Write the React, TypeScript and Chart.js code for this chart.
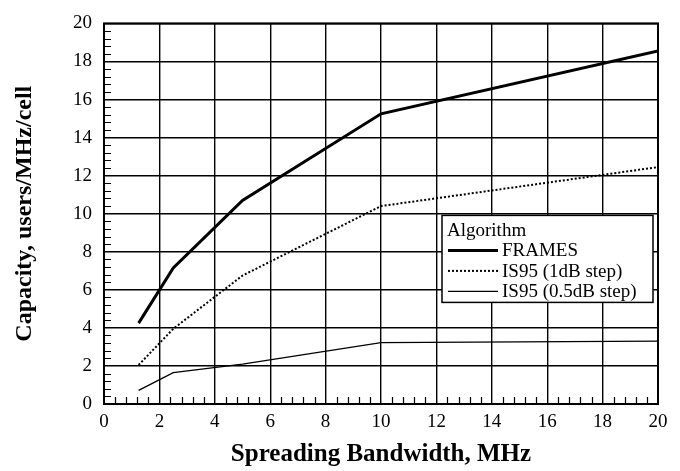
import React, { useEffect, useRef } from "react";
import { Chart, registerables } from "chart.js";

Chart.register(...registerables);

// ---- Data ----
const bandwidths = [1.25, 2.5, 5, 10, 20];
const framesValues = [4.25, 7.15, 10.7, 15.25, 18.55];
const is95OneDbValues = [2.05, 3.95, 6.75, 10.4, 12.45];
const is95HalfDbValues = [0.72, 1.65, 2.1, 3.22, 3.3];
const seriesLabels = ["FRAMES", "IS95 (1dB step)", "IS95 (0.5dB step)"];
const legendTitle = "Algorithm";
const xTitle = "Spreading Bandwidth, MHz";
const yTitle = "Capacity, users/MHz/cell";
const xRange = [0, 20];
const yRange = [0, 20];
const majorStep = 2;
const minorStep = 0.4;

const SERIF = "'Liberation Serif', 'Times New Roman', serif";

const toPoints = (vals: number[]) => bandwidths.map((x, i) => ({ x, y: vals[i] }));

const framePlugin = {
  id: "frameAndMinor",
  afterDraw(chart: any) {
    const { ctx, chartArea } = chart;
    const xs = chart.scales.x;
    const ys = chart.scales.y;
    ctx.save();
    ctx.strokeStyle = "#000";
    // minor ticks
    ctx.lineWidth = 1.2;
    ctx.beginPath();
    const nY = Math.round((yRange[1] - yRange[0]) / minorStep);
    for (let k = 1; k < nY; k++) {
      const v = yRange[0] + k * minorStep;
      if (Math.abs(v / majorStep - Math.round(v / majorStep)) < 1e-6) continue;
      const py = Math.round(ys.getPixelForValue(v)) + 0.5;
      ctx.moveTo(chartArea.left, py);
      ctx.lineTo(chartArea.left + 7, py);
    }
    const nX = Math.round((xRange[1] - xRange[0]) / minorStep);
    for (let k = 1; k < nX; k++) {
      const v = xRange[0] + k * minorStep;
      if (Math.abs(v / majorStep - Math.round(v / majorStep)) < 1e-6) continue;
      const px = Math.round(xs.getPixelForValue(v)) + 0.5;
      ctx.moveTo(px, chartArea.bottom);
      ctx.lineTo(px, chartArea.bottom - 7);
    }
    ctx.stroke();
    // frame
    ctx.lineWidth = 2;
    ctx.strokeRect(
      chartArea.left,
      chartArea.top,
      chartArea.right - chartArea.left,
      chartArea.bottom - chartArea.top
    );
    ctx.restore();
  },
};

const legendPlugin = {
  id: "insideLegend",
  afterDatasetsDraw(chart: any) {
    const { ctx, chartArea } = chart;
    const left = chartArea.right - 216;
    const top = chartArea.top + 192;
    const w = 211;
    const h = 87;
    ctx.save();
    ctx.fillStyle = "#fff";
    ctx.fillRect(left, top, w, h);
    ctx.strokeStyle = "#000";
    ctx.lineWidth = 1.5;
    ctx.strokeRect(left, top, w, h);
    ctx.fillStyle = "#000";
    ctx.font = `19px ${SERIF}`;
    ctx.textBaseline = "alphabetic";
    ctx.textAlign = "left";
    ctx.fillText(legendTitle, left + 5, top + 21);
    chart.data.datasets.forEach((ds: any, i: number) => {
      const base = top + 41 + i * 20.5;
      const ly = base - 6;
      ctx.save();
      ctx.strokeStyle = ds.borderColor;
      ctx.lineWidth = ds.borderWidth;
      ctx.setLineDash(ds.borderDash || []);
      ctx.beginPath();
      ctx.moveTo(left + 6, ly);
      ctx.lineTo(left + 56, ly);
      ctx.stroke();
      ctx.restore();
      ctx.fillText(ds.label, left + 60, base);
    });
    ctx.restore();
  },
};

export default function App() {
  const canvasRef = useRef<HTMLCanvasElement | null>(null);

  useEffect(() => {
    if (!canvasRef.current) return;
    const chart = new Chart(canvasRef.current, {
      type: "line",
      data: {
        datasets: [
          {
            label: seriesLabels[0],
            data: toPoints(framesValues),
            borderColor: "#000",
            borderWidth: 3,
            pointRadius: 0,
            tension: 0,
            fill: false,
          },
          {
            label: seriesLabels[1],
            data: toPoints(is95OneDbValues),
            borderColor: "#000",
            borderWidth: 2,
            borderDash: [2, 2],
            pointRadius: 0,
            tension: 0,
            fill: false,
          },
          {
            label: seriesLabels[2],
            data: toPoints(is95HalfDbValues),
            borderColor: "#000",
            borderWidth: 1.3,
            pointRadius: 0,
            tension: 0,
            fill: false,
          },
        ],
      },
      options: {
        responsive: false,
        animation: false,
        layout: { padding: { left: 0, top: 15, right: 22, bottom: 0 } },
        plugins: {
          legend: { display: false },
          tooltip: { enabled: false },
        },
        scales: {
          x: {
            type: "linear",
            min: xRange[0],
            max: xRange[1],
            afterFit: (s: any) => {
              s.height = 67;
            },
            ticks: {
              stepSize: majorStep,
              color: "#000",
              padding: 7,
              font: { family: SERIF, size: 19 },
              maxRotation: 0,
              autoSkip: false,
            },
            grid: { color: "#000", lineWidth: 1.4, drawTicks: false },
            border: { display: false },
            title: {
              display: true,
              text: xTitle,
              color: "#000",
              font: { family: SERIF, size: 25, weight: "bold" },
              padding: { top: 0, bottom: 1 },
            },
          },
          y: {
            type: "linear",
            min: yRange[0],
            max: yRange[1],
            afterFit: (s: any) => {
              s.width = 104;
            },
            ticks: {
              stepSize: majorStep,
              color: "#000",
              padding: 12,
              font: { family: SERIF, size: 19 },
              autoSkip: false,
            },
            grid: { color: "#000", lineWidth: 1.4, drawTicks: false },
            border: { display: false },
            title: {
              display: true,
              text: yTitle,
              color: "#000",
              font: { family: SERIF, size: 24, weight: "bold" },
              padding: { top: 10, bottom: 0 },
            },
          },
        },
      },
      plugins: [framePlugin, legendPlugin],
    } as any);
    return () => chart.destroy();
  }, []);

  return (
    <div style={{ position: "absolute", left: 0, top: 0, width: 680, height: 471, background: "#fff" }}>
      <canvas ref={canvasRef} width={680} height={471} style={{ display: "block" }} />
    </div>
  );
}
